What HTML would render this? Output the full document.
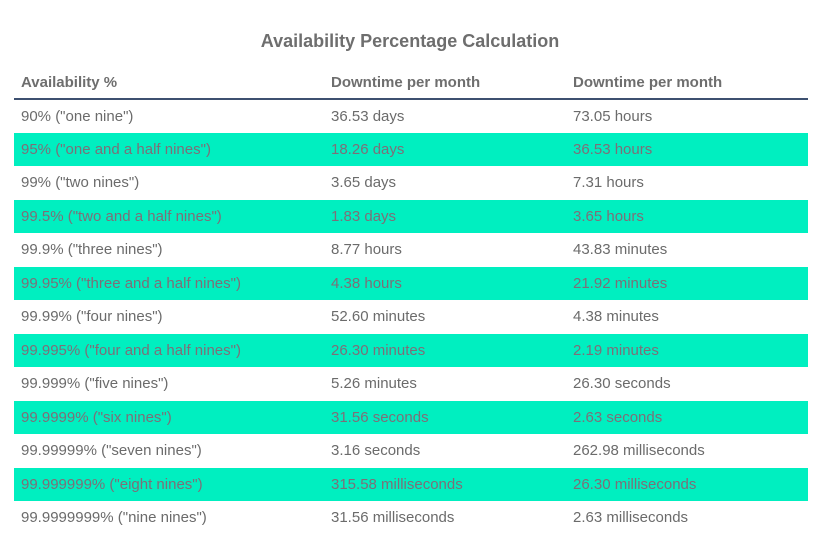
<!DOCTYPE html>
<html><head><meta charset="utf-8"><style>
body{margin:0;width:820px;height:548px;background:#fff;font-family:"Liberation Sans",Arial,sans-serif;overflow:hidden;position:relative}
h1{position:absolute;top:31px;left:0;width:820px;text-align:center;margin:0;font-size:18px;font-weight:bold;color:#6e6e6e}
table{position:absolute;left:14px;top:66px;width:794px;border-collapse:collapse;font-size:15px;color:#6b6b6b}
th{text-align:left;font-weight:bold;height:32px;padding:0 0 0 7px;border-bottom:2px solid #3d5070;color:#6e6e6e}
td{height:33.5px;padding:0 0 0 7px;box-sizing:border-box}
tr.h td{background:#00efc0;color:#7d6f78}
.c1{width:303px}.c2{width:235px}
</style></head><body>
<h1>Availability Percentage Calculation</h1>
<table>
<thead><tr><th class="c1">Availability %</th><th class="c2">Downtime per month</th><th>Downtime per month</th></tr></thead>
<tbody>
<tr><td>90% ("one nine")</td><td>36.53 days</td><td>73.05 hours</td></tr>
<tr class="h"><td>95% ("one and a half nines")</td><td>18.26 days</td><td>36.53 hours</td></tr>
<tr><td>99% ("two nines")</td><td>3.65 days</td><td>7.31 hours</td></tr>
<tr class="h"><td>99.5% ("two and a half nines")</td><td>1.83 days</td><td>3.65 hours</td></tr>
<tr><td>99.9% ("three nines")</td><td>8.77 hours</td><td>43.83 minutes</td></tr>
<tr class="h"><td>99.95% ("three and a half nines")</td><td>4.38 hours</td><td>21.92 minutes</td></tr>
<tr><td>99.99% ("four nines")</td><td>52.60 minutes</td><td>4.38 minutes</td></tr>
<tr class="h"><td>99.995% ("four and a half nines")</td><td>26.30 minutes</td><td>2.19 minutes</td></tr>
<tr><td>99.999% ("five nines")</td><td>5.26 minutes</td><td>26.30 seconds</td></tr>
<tr class="h"><td>99.9999% ("six nines")</td><td>31.56 seconds</td><td>2.63 seconds</td></tr>
<tr><td>99.99999% ("seven nines")</td><td>3.16 seconds</td><td>262.98 milliseconds</td></tr>
<tr class="h"><td>99.999999% ("eight nines")</td><td>315.58 milliseconds</td><td>26.30 milliseconds</td></tr>
<tr><td>99.9999999% ("nine nines")</td><td>31.56 milliseconds</td><td>2.63 milliseconds</td></tr>
</tbody></table>
</body></html>
